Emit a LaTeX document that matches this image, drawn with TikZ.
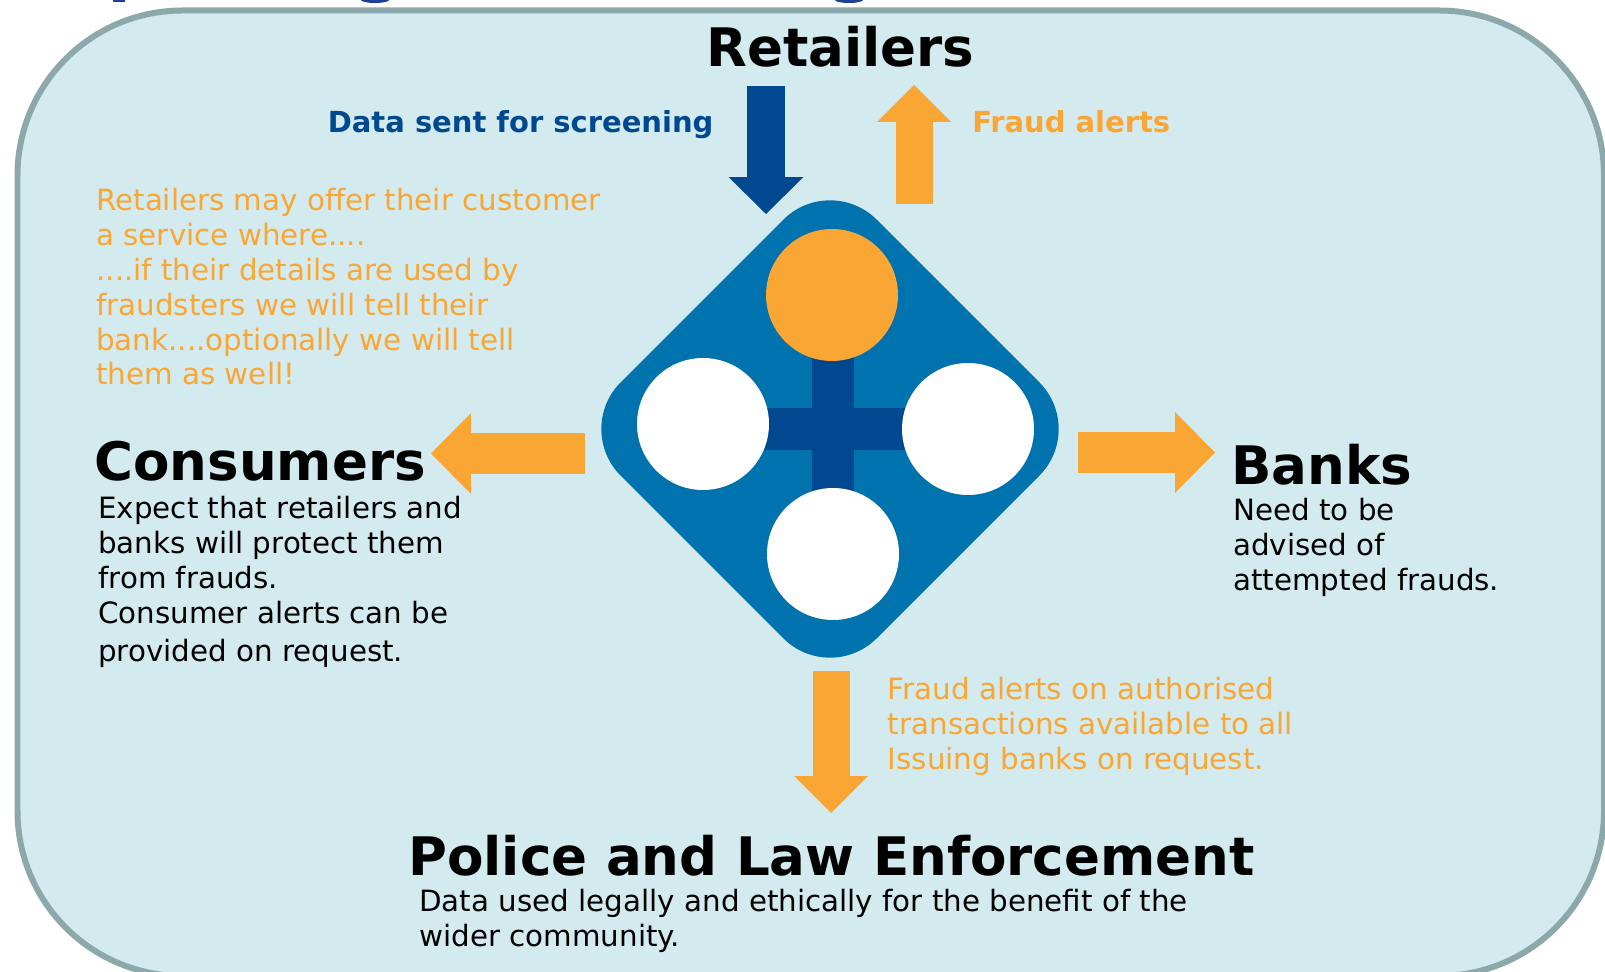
\documentclass[tikz,border=0pt]{standalone}
\usepackage{fontspec}
\setmainfont{DejaVu Sans}
\usepackage{xcolor}
\usetikzlibrary{arrows.meta}
\definecolor{panelfill}{HTML}{D3EBEE}
\definecolor{paneledge}{HTML}{8CA8AA}
\definecolor{alertorange}{HTML}{FAA634}
\definecolor{hubblue}{HTML}{0072AE}
\definecolor{deepblue}{HTML}{00488F}
\definecolor{titleblue}{HTML}{1F3F94}
\begin{document}
\begin{tikzpicture}[line cap=butt,line join=miter,x=0.02cm,y=-0.02cm,
  heading/.style={anchor=base west,inner sep=0pt,font=\bfseries\fontsize{30.2}{36}\selectfont},
  bodytext/.style={anchor=base west,inner sep=0pt,align=left,font=\fontsize{16.7}{19.9}\selectfont},
  boldtext/.style={anchor=base west,inner sep=0pt,font=\bfseries\fontsize{16.5}{19.9}\selectfont},
  orangeblock/.style={line width=0.74cm,color=alertorange,-{Triangle[length=0.74cm,width=1.48cm,line width=0pt]}},
  orangewide/.style={line width=0.82cm,color=alertorange,-{Triangle[length=0.8cm,width=1.62cm,line width=0pt]}},
  blueblock/.style={line width=0.76cm,color=deepblue,-{Triangle[length=0.74cm,width=1.5cm,line width=0pt]}},
  hubdisc/.style={circle,inner sep=0pt,minimum size=2.64cm}]
\useasboundingbox (0,0) rectangle (1605,972);
\clip (0,0) rectangle (1605,972);
% cut off title
\fill [titleblue] (113,0) rectangle (125,2);
\fill [titleblue] (361,0) arc (180:0:14 and 3);
\fill [titleblue] (835,0) arc (180:0:14 and 3);
% panel
\draw [line width=0.12cm,color=paneledge,fill=panelfill,rounded corners=3.3cm] (17.5,10.5) rectangle (1604,976);
% hub
\fill [hubblue,rounded corners=1.32cm] (830,173)-- (1086,429)-- (830,685)-- (574,429)-- cycle;
\coordinate (crossN) at (832,295);
\coordinate (crossS) at (833,554);
\coordinate (crossW) at (703,429);
\coordinate (crossE) at (968,429);
\draw [line width=0.84cm,color=deepblue] (833,295)-- (crossS);
\draw [line width=0.84cm,color=deepblue] (crossW)-- (crossE);
\node [hubdisc,fill=alertorange] (discRetailers) at (crossN) {};
\node [hubdisc,fill=white] (discConsumers) at (703,424) {};
\node [hubdisc,fill=white] (discBanks) at (crossE) {};
\node [hubdisc,fill=white] (discPolice) at (crossS) {};
% arrows
\coordinate (sendTop) at (766,86);
\coordinate (sendTip) at (766,214);
\coordinate (alertBot) at (914,204);
\coordinate (alertTip) at (914,85);
\coordinate (consBase) at (585,453.5);
\coordinate (consTip) at (431,453.5);
\coordinate (bankBase) at (1078,452.5);
\coordinate (bankTip) at (1215,452.5);
\coordinate (policeBase) at (831,671);
\coordinate (policeTip) at (831,813);
\draw [blueblock] (sendTop)-- (sendTip);
\draw [orangeblock] (alertBot)-- (alertTip);
\draw [orangewide] (consBase)-- (consTip);
\draw [orangewide] (bankBase)-- (bankTip);
\draw [orangeblock] (policeBase)-- (policeTip);
% labels
\node [heading] (retailers) at (706,66.5) {Retailers};
\node [heading] (consumers) at (94,481) {Consumers};
\node [heading] (banks) at (1231,485) {Banks};
\node [heading] (police) at (408,875) {Police and Law Enforcement};
\node [boldtext,color=deepblue] (sendLabel) at (327.5,133) {Data sent for screening};
\node [boldtext,color=alertorange] (alertLabel) at (972,133) {Fraud alerts};
\node [bodytext,color=alertorange] (serviceText) at (96,385) {Retailers may offer their customer\\a service where....\\....if their details are used by\\fraudsters we will tell their\\bank....optionally we will tell\\them as well!};
\node [bodytext] (consumerText) at (98,661) {Expect that retailers and\\banks will protect them\\from frauds.\\Consumer alerts can be\\[0.06cm]provided on request.};
\node [bodytext] (bankText) at (1233,590) {Need to be\\advised of\\attempted frauds.};
\node [bodytext,color=alertorange] (policeAlert) at (887.5,769) {Fraud alerts on authorised\\transactions available to all\\Issuing banks on request.};
\node [bodytext] (policeText) at (419,946) {Data used legally and ethically for the benefit of the\\wider community.};
\end{tikzpicture}
\end{document}
